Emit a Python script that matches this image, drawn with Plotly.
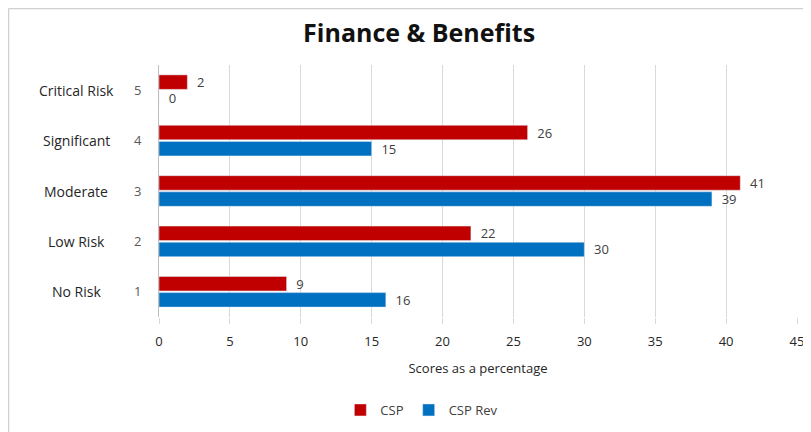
import plotly.graph_objects as go

levels = ["1", "2", "3", "4", "5"]
level_names = ["No Risk", "Low Risk", "Moderate", "Significant", "Critical Risk"]
csp = [9, 22, 41, 26, 2]
csp_rev = [16, 30, 39, 15, 0]
x_ticks = [0, 5, 10, 15, 20, 25, 30, 35, 40, 45]

RED = "#C00000"
BLUE = "#0070C0"
FONT = "Open Sans"

fig = go.Figure()
fig.add_trace(go.Bar(
    y=levels, x=csp_rev, name="CSP Rev", orientation="h",
    marker=dict(color=BLUE),
    text=[f"\u00a0\u00a0{v}" for v in csp_rev], textposition="outside",
    constraintext="none",
    textfont=dict(family=FONT, size=13, color="#404040"), cliponaxis=False,
))
fig.add_trace(go.Bar(
    y=levels, x=csp, name="CSP", orientation="h",
    marker=dict(color=RED),
    text=[f"\u00a0\u00a0{v}" for v in csp], textposition="outside",
    constraintext="none",
    textfont=dict(family=FONT, size=13, color="#404040"), cliponaxis=False,
))

for i, nm in enumerate(level_names):
    fig.add_annotation(x=-0.13, xref="paper", y=i, yref="y", text=nm,
                       showarrow=False, xanchor="center",
                       font=dict(family=FONT, size=14, color="#262626"))

# light frame along the left and top edges of the chart area
fig.add_shape(type="line", xref="paper", yref="paper",
              x0=-0.2359, x1=-0.2359, y0=-0.6, y1=1.2242,
              line=dict(color="#d0d0d0", width=1.5), layer="below")
fig.add_shape(type="line", xref="paper", yref="paper",
              x0=-0.2359, x1=1.1, y0=1.2242, y1=1.2242,
              line=dict(color="#d0d0d0", width=1.5), layer="below")

# page body has an 8px margin, so the figure is offset by 8px right/down
fig.update_layout(
    width=803, height=424,
    margin=dict(l=151, r=14, t=57, b=115, autoexpand=False),
    paper_bgcolor="white", plot_bgcolor="white",
    title=dict(text="<b>Finance &amp; Benefits</b>", x=0.512, xanchor="center",
               y=0.94, yanchor="middle",
               font=dict(family=FONT, size=25, color="#111111")),
    barmode="group", bargap=0.36, bargroupgap=0.1,
    showlegend=True,
    legend=dict(orientation="h", x=0.412, xanchor="center", y=-0.369, yanchor="middle",
                traceorder="reversed",
                font=dict(family=FONT, size=13, color="#404040"),
                itemwidth=30),
    xaxis=dict(range=[0, 45], tickvals=x_ticks, showgrid=True, gridcolor="#d9d9d9",
               zeroline=False, showline=False, automargin=False,
               ticks="outside", ticklen=6, tickcolor="#d9d9d9",
               ticklabelstandoff=6,
               tickfont=dict(family=FONT, size=13, color="#262626"),
               title=dict(text="Scores as a percentage", standoff=15,
                          font=dict(family=FONT, size=13, color="#262626"))),
    yaxis=dict(type="category", categoryorder="array", categoryarray=levels,
               showgrid=False, zeroline=False, showline=True, linecolor="#bfbfbf",
               ticks="", ticklabelstandoff=14, automargin=False,
               tickfont=dict(family=FONT, size=13, color="#595959")),
)

fig.write_html("out.html")
